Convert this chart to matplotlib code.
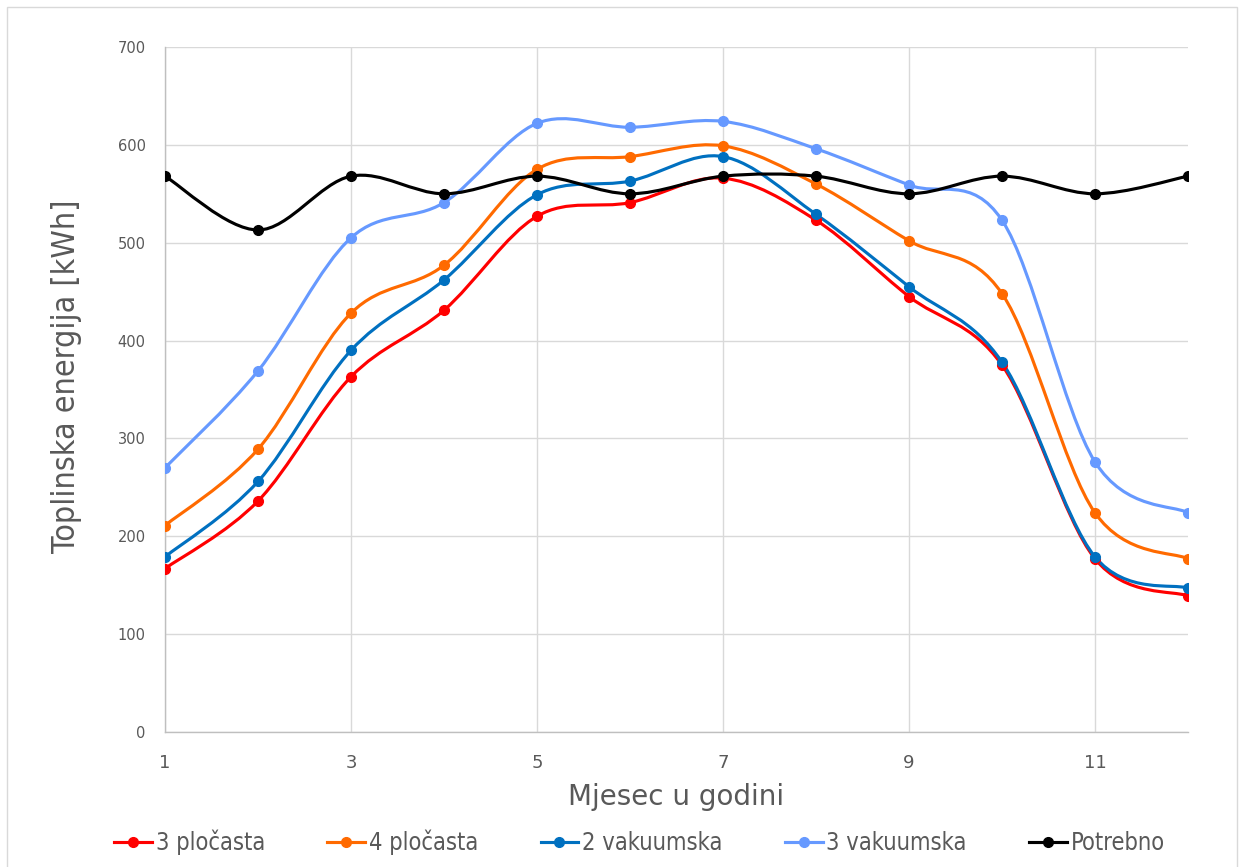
import matplotlib.pyplot as plt
import numpy as np
from matplotlib.path import Path
from matplotlib.patches import PathPatch, Rectangle
from matplotlib.lines import Line2D

plt.rcParams['font.family'] = ['DejaVu Sans']

months = list(range(1, 13))
plocasta_3 = [167, 236, 363, 431, 527, 541, 566, 523, 445, 375, 177, 139]
plocasta_4 = [211, 289, 428, 477, 575, 588, 599, 560, 502, 448, 224, 177]
vakuumska_2 = [179, 256, 390, 462, 549, 563, 588, 529, 455, 378, 179, 147]
vakuumska_3 = [270, 369, 505, 541, 622, 618, 624, 596, 559, 523, 276, 224]
potrebno = [568, 513, 568, 550, 568, 550, 568, 568, 550, 568, 550, 568]

series = [
    ("3 pločasta", plocasta_3, "#FF0000"),
    ("4 pločasta", plocasta_4, "#FF6A00"),
    ("2 vakuumska", vakuumska_2, "#0070C0"),
    ("3 vakuumska", vakuumska_3, "#6699FF"),
    ("Potrebno", potrebno, "#000000"),
]


def smooth_path(x, y):
    # Excel-like smoothed line: cubic bezier with catmull-rom tangents
    x = np.asarray(x, float)
    y = np.asarray(y, float)
    n = len(x)
    verts = [(x[0], y[0])]
    codes = [Path.MOVETO]
    for i in range(n - 1):
        p0 = (x[max(i - 1, 0)], y[max(i - 1, 0)])
        p1 = (x[i], y[i])
        p2 = (x[i + 1], y[i + 1])
        p3 = (x[min(i + 2, n - 1)], y[min(i + 2, n - 1)])
        c1 = (p1[0] + (p2[0] - p0[0]) / 6, p1[1] + (p2[1] - p0[1]) / 6)
        c2 = (p2[0] - (p3[0] - p1[0]) / 6, p2[1] - (p3[1] - p1[1]) / 6)
        verts += [c1, c2, p2]
        codes += [Path.CURVE4] * 3
    return Path(verts, codes)


fig = plt.figure(figsize=(12.44, 8.67), dpi=100)
ax = fig.add_axes([165 / 1244, 1 - 732 / 867, 1023 / 1244, 685 / 867])

# okvir grafikona
fig.patches.append(Rectangle((7 / 1244, -0.01), 1230 / 1244, 1 - 7 / 867 + 0.01,
                             transform=fig.transFigure, fill=False,
                             edgecolor="#d9d9d9", lw=1))

handles = []
for name, vals, col in series:
    ax.add_patch(PathPatch(smooth_path(months, vals), facecolor="none",
                           edgecolor=col, lw=2.25, zorder=3))
    ax.plot(months, vals, linestyle="none", marker="o", ms=7, color=col, zorder=4)
    handles.append(Line2D([0], [0], color=col, lw=2.25, marker="o", ms=7))

ax.set_xlim(1, 12)
ax.set_ylim(0, 700)
ax.set_xticks([1, 3, 5, 7, 9, 11])
ax.set_yticks(range(0, 701, 100))
ax.grid(True, color="#d9d9d9", lw=1, zorder=0)
ax.set_axisbelow(True)
for s in ["top", "right"]:
    ax.spines[s].set_visible(False)
for s in ["left", "bottom"]:
    ax.spines[s].set_color("#bfbfbf")
    ax.spines[s].set_linewidth(1)
ax.tick_params(axis="both", length=0, colors="#595959")
ax.tick_params(axis="y", labelsize=10.5, pad=14)
ax.tick_params(axis="x", labelsize=13, pad=16)

ax.set_xlabel("Mjesec u godini", fontsize=20, color="#595959", labelpad=8)
ax.set_ylabel("Toplinska energija [kWh]", fontsize=23, color="#595959",
              fontstretch="condensed")
ax.yaxis.set_label_coords(-0.081, 0.52)

fig.legend(handles, [s[0] for s in series], loc="lower center",
           bbox_to_anchor=(0.514, -0.011), ncol=5, frameon=False,
           prop={"size": 17, "stretch": "condensed"},
           labelcolor="#595959", handlelength=1.6, handletextpad=0.15,
           columnspacing=2.65)

fig.savefig("out.png", dpi=100)
